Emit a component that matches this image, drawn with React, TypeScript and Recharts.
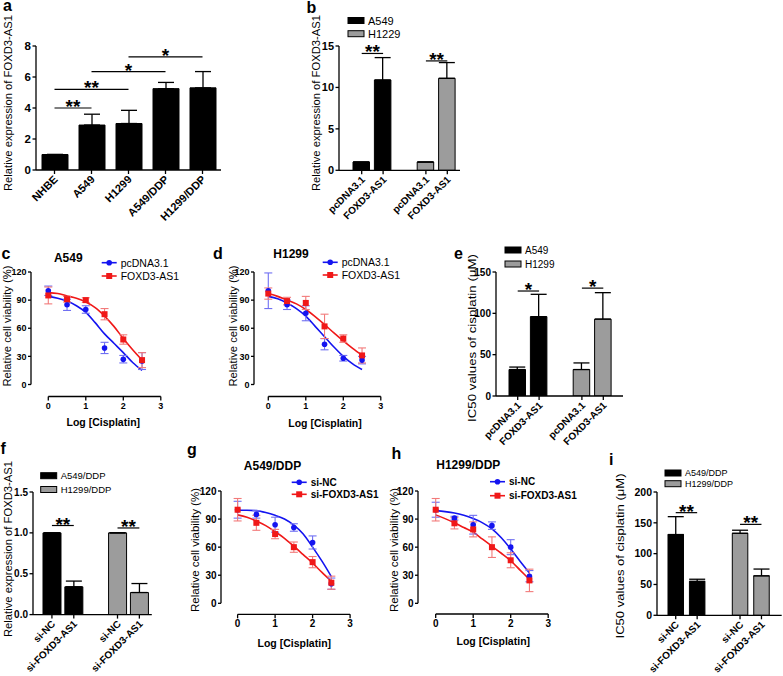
import React from "react";
import {
  BarChart, Bar, Cell, ErrorBar, XAxis, YAxis, ReferenceLine,
  ComposedChart, Line, Scatter,
} from "recharts";

const FONT = "'Liberation Sans', Arial, Helvetica, sans-serif";
const BLACK = "#000000";
const GRAY = "#9c9c9c";
const BLUE = "#1414f0";
const RED = "#f01818";
const BLUE_ERR = "#7070f2";
const RED_ERR = "#f27a7a";

// a - FOXD3-AS1 expression in cell lines
const aCells = ["NHBE", "A549", "H1299", "A549/DDP", "H1299/DDP"];
const aMean = [1.0, 2.9, 3.0, 5.25, 5.3];
const aErr = [0, 0.7, 0.85, 0.4, 1.05];
const aTicks = [0, 2, 4, 6, 8];
const aSig = [
  { from: "NHBE", to: "A549", y: 4.0, mark: "**" },
  { from: "NHBE", to: "H1299", y: 5.2, mark: "**" },
  { from: "A549", to: "A549/DDP", y: 6.35, mark: "*" },
  { from: "H1299", to: "H1299/DDP", y: 7.3, mark: "*" },
];

// b - overexpression
const bLines = ["A549", "H1229"];
const bTreat = ["pcDNA3.1", "FOXD3-AS1"];
const bMean = [1.0, 10.9, 1.0, 11.1];
const bErr = [0, 2.7, 0, 1.9];
const bTicks = [0, 5, 10, 15];
const bSigY = [14.1, 13.2];

// e - IC50 after overexpression
const eLines = ["A549", "H1299"];
const eMean = [32, 96, 32, 93];
const eErr = [3, 27, 8, 32];
const eTicks = [0, 50, 100, 150];
const eSigY = [127, 130.5];

// f - knockdown
const fLines = ["A549/DDP", "H1299/DDP"];
const fTreat = ["si-NC", "si-FOXD3-AS1"];
const fMean = [1.0, 0.34, 1.0, 0.27];
const fErr = [0, 0.07, 0, 0.11];
const fTicks = [0, 0.5, 1.0, 1.5];
const fSigY = [1.09, 1.06];

// i - IC50 after knockdown
const iMean = [131, 55, 133, 64];
const iErr = [29, 3.5, 5, 11];
const iTicks = [0, 50, 100, 150, 200];
const iSigY = [166.5, 147.5];

// dose-response panels
const logDose = [0, 0.5, 1, 1.5, 2, 2.5];
const fitDose = [0, 0.25, 0.5, 0.75, 1, 1.25, 1.5, 1.75, 2, 2.25, 2.5];
const doseTicks = [0, 1, 2, 3];
const viabilityTicks = [0, 30, 60, 90, 120];

const cPcMean = [100, 85, 80, 39, 27, 25];
const cPcErr = [5, 6, 4, 6, 4, 9];
const cPcFit = [94, 92, 89, 84, 77, 66, 54, 44, 34, 23.5, 15];
const cFoxMean = [95, 91, 90, 75, 48, 26];
const cFoxErr = [9, 3, 2.5, 6, 5, 8];
const cFoxFit = [98, 97, 94.5, 92, 88, 82, 73, 62, 49, 37, 26];

const dPcMean = [100, 85, 76, 43, 28, 26];
const dPcErr = [19, 5, 8, 6, 3, 4];
const dPcFit = [94, 91.5, 87, 81, 73, 62, 51, 40, 30, 22, 16];
const dFoxMean = [97, 89, 87, 62, 49, 31];
const dFoxErr = [6, 4, 7, 13, 4, 8];
const dFoxFit = [97, 94, 90, 86, 80, 72.5, 64, 55, 46.5, 38.5, 31];

const gNcMean = [100, 95, 84, 81, 65, 21];
const gNcErr = [9, 4, 8, 4, 7, 6];
const gNcFit = [99.5, 99.5, 99, 97, 94, 90, 83.5, 74, 60, 45, 28.5];
const gSiMean = [100, 86, 74, 60, 44, 22];
const gSiErr = [12, 8, 5, 5.5, 6, 7];
const gSiFit = [94.5, 92, 88, 83, 76.5, 69.5, 61, 52, 43, 33, 23.5];

const hNcMean = [100, 91, 84, 83, 60, 29];
const hNcErr = [8, 2, 10, 4, 8, 6];
const hNcFit = [99, 98, 96.5, 94, 90.5, 86, 79.5, 70, 58, 45, 32.5];
const hSiMean = [100, 85.5, 79, 60, 46, 24.5];
const hSiErr = [12, 6, 8, 11, 8, 12];
const hSiFit = [94.5, 90.5, 86, 81, 76, 68.5, 61, 53.5, 45.5, 35.5, 25.5];

type Row = { key: string; label: string; value: number | null; err: number[] | null; fill: string };

function cellRows(cells: string[], mean: number[], err: number[]): Row[] {
  return cells.map((c, i) => ({ key: c, label: c, value: mean[i], err: [0, err[i]], fill: BLACK }));
}

function groupRows(lines: string[], treats: string[], mean: number[], err: number[]): Row[] {
  const rows: Row[] = [];
  lines.forEach((line, g) => {
    if (g > 0) rows.push({ key: `gap-${g}`, label: "", value: null, err: null, fill: "none" });
    treats.forEach((t, k) => {
      const i = g * treats.length + k;
      rows.push({ key: `${line}:${t}`, label: t, value: mean[i], err: [0, err[i]], fill: g === 0 ? BLACK : GRAY });
    });
  });
  return rows;
}

function groupSig(lines: string[], treats: string[], heights: number[], mark: string) {
  return lines.map((line, g) => ({ from: `${line}:${treats[0]}`, to: `${line}:${treats[1]}`, y: heights[g], mark }));
}

const pts = (ys: number[], es: number[]) => logDose.map((x, i) => ({ x, y: ys[i], e: es[i] }));
const fit = (ys: number[]) => fitDose.map((x, i) => ({ x, y: ys[i] }));

function frame(x1: number, y1: number, x2: number, y2: number, yw: number, xh: number, mt: number, mr: number) {
  return {
    left: x1 - yw, top: y1 - mt,
    width: x2 - x1 + yw + mr, height: y2 - y1 + mt + xh,
    yw, xh, margin: { top: mt, right: mr, bottom: 0, left: 0 },
  };
}

const tickFont = (size: number) => ({ fontSize: size, fontWeight: "bold", fill: BLACK, fontFamily: FONT });

const SlantTick = ({ x, y, text, size }: any) => {
  if (!text) return null;
  const ax = x + 4;
  const ay = y + 4;
  return (
    <g>
      <line x1={x} x2={x} y1={y - 6} y2={y - 2} stroke={BLACK} strokeWidth={1.3} />
      <text x={ax} y={ay} transform={`rotate(-45 ${ax} ${ay})`} textAnchor="end"
        fontSize={size} fontWeight="bold" fontFamily={FONT} fill={BLACK}>{text}</text>
    </g>
  );
};

function BarPanel({ fr, rows, domain, ticks, sig, pad, barSize, fmt, labelSize, ySize = 11 }: any) {
  const labelOf: Record<string, string> = Object.fromEntries(rows.map((r: Row) => [r.key, r.label]));
  return (
    <div style={{ position: "absolute", left: fr.left, top: fr.top }}>
      <BarChart width={fr.width} height={fr.height} data={rows} margin={fr.margin}>
        <XAxis dataKey="key" interval={0} padding={pad} height={fr.xh} tickLine={false}
          tickSize={4} tickMargin={2} axisLine={{ stroke: BLACK, strokeWidth: 1.3 }}
          tick={(p: any) => <SlantTick x={p.x} y={p.y} text={labelOf[p.payload.value]} size={labelSize} />} />
        <YAxis type="number" domain={domain} ticks={ticks} width={fr.yw} allowDataOverflow
          axisLine={{ stroke: BLACK, strokeWidth: 1.3 }} tickLine={{ stroke: BLACK, strokeWidth: 1.3 }}
          tickSize={3.5} tickMargin={1.5} tickFormatter={fmt} tick={tickFont(ySize)} />
        <Bar dataKey="value" barSize={barSize} stroke={BLACK} strokeWidth={1} isAnimationActive={false}>
          {rows.map((r: Row) => <Cell key={r.key} fill={r.fill} />)}
          <ErrorBar dataKey="err" direction="y" width={8} stroke={BLACK} strokeWidth={1.3} isAnimationActive={false} />
        </Bar>
        {sig.map((s: any) => (
          <ReferenceLine key={s.from + s.to} segment={[{ x: s.from, y: s.y }, { x: s.to, y: s.y }]}
            stroke={BLACK} strokeWidth={1.2} ifOverflow="visible"
            label={{ value: s.mark, position: "top", offset: -5, fontSize: 19, fontWeight: "bold", fill: BLACK, fontFamily: FONT }} />
        ))}
      </BarChart>
    </div>
  );
}

function CurvePanel({ fr, xDomain, yDomain, series, size }: any) {
  return (
    <div style={{ position: "absolute", left: fr.left, top: fr.top }}>
      <ComposedChart width={fr.width} height={fr.height} margin={fr.margin}>
        <XAxis type="number" dataKey="x" domain={xDomain} ticks={doseTicks} allowDataOverflow height={fr.xh}
          axisLine={false} tickLine={{ stroke: BLACK, strokeWidth: 1.3 }} tickSize={4} tickMargin={2} tick={tickFont(size)} />
        <YAxis type="number" dataKey="y" domain={yDomain} ticks={viabilityTicks} allowDataOverflow width={fr.yw}
          axisLine={false} tickLine={{ stroke: BLACK, strokeWidth: 1.3 }} tickSize={3} tickMargin={1.5} tick={tickFont(size)} />
        <ReferenceLine segment={[{ x: xDomain[0], y: 0 }, { x: xDomain[0], y: 120 }]} stroke={BLACK} strokeWidth={1.3} ifOverflow="visible" />
        <ReferenceLine segment={[{ x: 0, y: yDomain[0] }, { x: 3, y: yDomain[0] }]} stroke={BLACK} strokeWidth={1.3} ifOverflow="visible" />
        {series.map((s: any) => (
          <Line key={s.name + "-fit"} data={s.fit} dataKey="y" type="monotone" dot={false}
            stroke={s.color} strokeWidth={1.6} isAnimationActive={false} />
        ))}
        {series.map((s: any) => (
          <Scatter key={s.name + "-pts"} data={s.points} fill={s.color} isAnimationActive={false}
            shape={(p: any) => s.marker === "circle"
              ? <circle cx={p.cx} cy={p.cy} r={2.8} fill={s.color} />
              : <rect x={p.cx - 3} y={p.cy - 3} width={6} height={6} fill={s.color} />}>
            <ErrorBar dataKey="e" direction="y" width={4} stroke={s.errColor} strokeWidth={1.1} isAnimationActive={false} />
          </Scatter>
        ))}
      </ComposedChart>
    </div>
  );
}

const pcSeries = (mean: number[], err: number[], f: number[], mean2: number[], err2: number[], f2: number[], names: string[]) => [
  { name: names[0], color: BLUE, errColor: BLUE_ERR, marker: "circle", points: pts(mean, err), fit: fit(f) },
  { name: names[1], color: RED, errColor: RED_ERR, marker: "square", points: pts(mean2, err2), fit: fit(f2) },
];

// rotated axis title, stretched to the length it has in the figure
const VTitle = ({ cx, cy, text, len, size = 10.5 }: any) => (
  <text transform={`translate(${cx} ${cy}) rotate(-90)`} x={-len / 2} y={0} textAnchor="start" dominantBaseline="central"
    fontSize={size} fontFamily={FONT} fill={BLACK} textLength={len} lengthAdjust="spacingAndGlyphs">{text}</text>
);

const HText = ({ x, y, text, size = 11, bold = false, anchor = "start" }: any) => (
  <text x={x} y={y} textAnchor={anchor} dominantBaseline="central" fontSize={size}
    fontWeight={bold ? "bold" : "normal"} fontFamily={FONT} fill={BLACK}>{text}</text>
);

const BoxKey = ({ x, y, fill, text, size }: any) => (
  <g>
    <rect x={x} y={y - 3} width={16} height={6} fill={fill} stroke={BLACK} strokeWidth={1} />
    <HText x={x + 20} y={y} text={text} size={size} />
  </g>
);

const LineKey = ({ x, y, color, marker, text, size, bold }: any) => (
  <g>
    <line x1={x} x2={x + 15} y1={y} y2={y} stroke={color} strokeWidth={1.6} />
    {marker === "circle"
      ? <circle cx={x + 7.5} cy={y} r={2.8} fill={color} />
      : <rect x={x + 4.5} y={y - 3} width={6} height={6} fill={color} />}
    <HText x={x + 19} y={y} text={text} size={size} bold={bold} />
  </g>
);

export default function App() {
  const aRows = cellRows(aCells, aMean, aErr);
  const bRows = groupRows(bLines, bTreat, bMean, bErr);
  const eRows = groupRows(eLines, bTreat, eMean, eErr);
  const fRows = groupRows(fLines, fTreat, fMean, fErr);
  const iRows = groupRows(fLines, fTreat, iMean, iErr);

  const cSeries = pcSeries(cPcMean, cPcErr, cPcFit, cFoxMean, cFoxErr, cFoxFit, bTreat);
  const dSeries = pcSeries(dPcMean, dPcErr, dPcFit, dFoxMean, dFoxErr, dFoxFit, bTreat);
  const gSeries = pcSeries(gNcMean, gNcErr, gNcFit, gSiMean, gSiErr, gSiFit, fTreat);
  const hSeries = pcSeries(hNcMean, hNcErr, hNcFit, hSiMean, hSiErr, hSiFit, fTreat);

  const vTitleExpr = "Relative expression of FOXD3-AS1";
  const vTitleViab = "Relative cell viability (%)";
  const vTitleIc50 = "IC50 values of cisplatin (μM)";

  return (
    <div style={{ position: "absolute", left: 0, top: 0, width: 783, height: 676, background: "#fff", overflow: "hidden", fontFamily: FONT }}>
      <BarPanel fr={frame(36, 46, 221, 170, 30, 70, 14, 8)} rows={aRows} domain={[0, 8]} ticks={aTicks}
        sig={aSig} pad={{ left: 0, right: 0 }} barSize={26} labelSize={11} ySize={11.5} />
      <BarPanel fr={frame(339, 45.7, 460, 170, 30, 70, 14, 8)} rows={bRows} domain={[0, 15]} ticks={bTicks}
        sig={groupSig(bLines, bTreat, bSigY, "**")} pad={{ left: 12, right: 2 }} barSize={16.5} labelSize={10} />
      <BarPanel fr={frame(495.7, 271.7, 622.7, 395.7, 30, 70, 14, 8)} rows={eRows} domain={[0, 150]} ticks={eTicks}
        sig={groupSig(eLines, bTreat, eSigY, "*")} pad={{ left: 11, right: 9 }} barSize={16.5} labelSize={10} ySize={10} />
      <BarPanel fr={frame(32.7, 491.7, 151.5, 614.3, 30, 61, 14, 8)} rows={fRows} domain={[0, 1.5]} ticks={fTicks}
        sig={groupSig(fLines, fTreat, fSigY, "**")} pad={{ left: 8, right: 1.5 }} barSize={18}
        fmt={(v: number) => v.toFixed(1)} labelSize={10} ySize={10} />
      <BarPanel fr={frame(657.3, 491.7, 782, 615, 30, 61, 14, 1)} rows={iRows} domain={[0, 200]} ticks={iTicks}
        sig={groupSig(fLines, fTreat, iSigY, "**")} pad={{ left: 8, right: 9.5 }} barSize={15.5} labelSize={10} ySize={10.5} />

      <CurvePanel fr={frame(30.7, 271.5, 160.5, 396, 30, 26, 10, 8)} xDomain={[-0.461, 3]} yDomain={[-12.8, 120]} series={cSeries} size={9} />
      <CurvePanel fr={frame(254, 271.5, 380.8, 396, 30, 26, 10, 8)} xDomain={[-0.381, 3]} yDomain={[-12.8, 120]} series={dSeries} size={9} />
      <CurvePanel fr={frame(220.7, 491, 349.8, 614.3, 30, 26, 10, 8)} xDomain={[-0.443, 3]} yDomain={[-11.75, 120]} series={gSeries} size={10} />
      <CurvePanel fr={frame(418.3, 491, 548.5, 614, 30, 26, 10, 8)} xDomain={[-0.472, 3]} yDomain={[-11.4, 120]} series={hSeries} size={10} />

      <svg width={783} height={676} style={{ position: "absolute", left: 0, top: 0, pointerEvents: "none" }}>
        <g fontFamily={FONT} fontWeight="bold" fontSize={16} fill={BLACK}>
          <text x={3} y={10.5}>a</text>
          <text x={306.5} y={12.5}>b</text>
          <text x={1.5} y={258.5}>c</text>
          <text x={213} y={259}>d</text>
          <text x={454} y={259}>e</text>
          <text x={0.5} y={454}>f</text>
          <text x={187} y={455}>g</text>
          <text x={391.5} y={458.5}>h</text>
          <text x={609} y={465}>i</text>
        </g>

        <VTitle cx={8.5} cy={103} text={vTitleExpr} len={176} size={10} />
        <VTitle cx={316.5} cy={103} text={vTitleExpr} len={176} size={10} />
        <VTitle cx={7} cy={326} text={vTitleViab} len={121} />
        <VTitle cx={232.5} cy={326} text={vTitleViab} len={121} />
        <VTitle cx={471.5} cy={338} text={vTitleIc50} len={168} />
        <VTitle cx={8} cy={549} text={vTitleExpr} len={176} size={10} />
        <VTitle cx={195} cy={550} text={vTitleViab} len={124} />
        <VTitle cx={393.5} cy={550} text={vTitleViab} len={124} />
        <VTitle cx={620} cy={556} text={vTitleIc50} len={165} />

        <HText x={103.3} y={421.7} text="Log [Cisplatin]" size={10.5} bold anchor="middle" />
        <HText x={325} y={422.7} text="Log [Cisplatin]" size={10.5} bold anchor="middle" />
        <HText x={294.3} y={642.7} text="Log [Cisplatin]" size={10.5} bold anchor="middle" />
        <HText x={493.3} y={640.7} text="Log [Cisplatin]" size={10.5} bold anchor="middle" />

        <HText x={68.3} y={258} text="A549" size={12} bold anchor="middle" />
        <HText x={291} y={254} text="H1299" size={12} bold anchor="middle" />
        <HText x={272.5} y={465.5} text="A549/DDP" size={12} bold anchor="middle" />
        <HText x={468.3} y={465} text="H1299/DDP" size={12} bold anchor="middle" />

        <BoxKey x={348} y={20.5} fill={BLACK} text={bLines[0]} size={11} />
        <BoxKey x={348} y={33.7} fill={GRAY} text={bLines[1]} size={11} />
        <BoxKey x={505} y={250} fill={BLACK} text={eLines[0]} size={10} />
        <BoxKey x={505} y={264} fill={GRAY} text={eLines[1]} size={10} />
        <BoxKey x={40.7} y={475.7} fill={BLACK} text={fLines[0]} size={9.5} />
        <BoxKey x={40.7} y={489.5} fill={GRAY} text={fLines[1]} size={9.5} />
        <BoxKey x={665} y={473} fill={BLACK} text={fLines[0]} size={9} />
        <BoxKey x={665} y={483.7} fill={GRAY} text={fLines[1]} size={9} />

        <LineKey x={101.7} y={262.7} color={BLUE} marker="circle" text={bTreat[0]} size={10.5} />
        <LineKey x={101.7} y={276} color={RED} marker="square" text={bTreat[1]} size={10.5} />
        <LineKey x={322.7} y={262.3} color={BLUE} marker="circle" text={bTreat[0]} size={10.5} />
        <LineKey x={322.7} y={275} color={RED} marker="square" text={bTreat[1]} size={10.5} />
        <LineKey x={291.7} y={482.3} color={BLUE} marker="circle" text={fTreat[0]} size={10} bold />
        <LineKey x={291.7} y={494.3} color={RED} marker="square" text={fTreat[1]} size={10} bold />
        <LineKey x={490} y={481.7} color={BLUE} marker="circle" text={fTreat[0]} size={10} bold />
        <LineKey x={490} y={495.7} color={RED} marker="square" text={fTreat[1]} size={10} bold />
      </svg>
    </div>
  );
}
